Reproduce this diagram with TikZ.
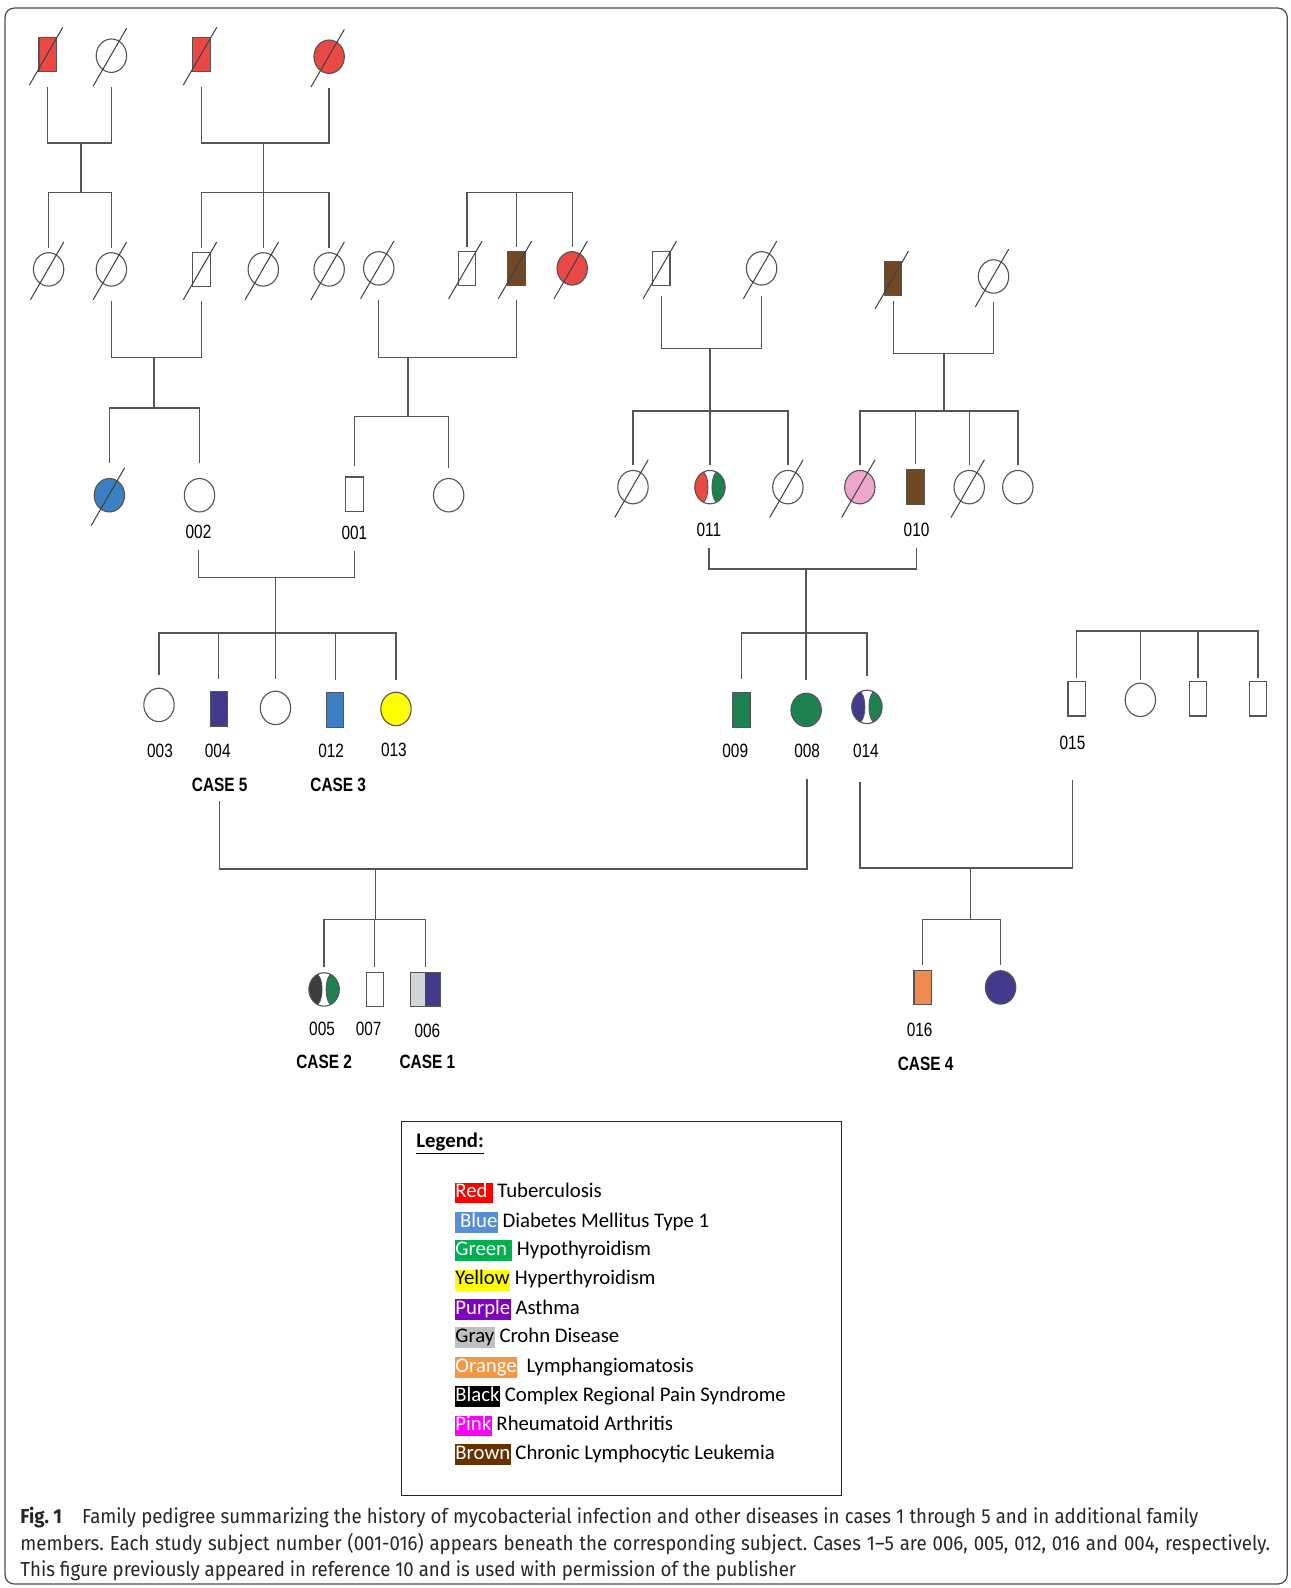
\documentclass[tikz,border=0pt]{standalone}
\usepackage{fontspec}
\usetikzlibrary{shapes.geometric}
\newfontfamily\pedfont[FakeStretch=0.8]{Liberation Sans}
\newfontfamily\legfont{Carlito}
\newfontfamily\capfont[FakeStretch=0.92]{Fira Sans}
\frenchspacing

\definecolor{tbred}{RGB}{233,72,68}
\definecolor{cllbrown}{RGB}{112,72,38}
\definecolor{dmblue}{RGB}{58,128,194}
\definecolor{thgreen}{RGB}{30,130,80}
\definecolor{hyyellow}{RGB}{255,255,0}
\definecolor{asthma}{RGB}{67,58,140}
\definecolor{rapink}{RGB}{238,166,205}
\definecolor{crohngray}{RGB}{210,214,214}
\definecolor{crpsblack}{RGB}{60,60,60}
\definecolor{lymorange}{RGB}{240,138,80}
\definecolor{linegray}{RGB}{85,85,85}
\definecolor{lgred}{RGB}{255,0,0}
\definecolor{lgblue}{RGB}{88,142,214}
\definecolor{lggreen}{RGB}{0,176,80}
\definecolor{lgyellow}{RGB}{255,255,0}
\definecolor{lgpurple}{RGB}{128,0,192}
\definecolor{lggray}{RGB}{191,191,191}
\definecolor{lgorange}{RGB}{247,150,70}
\definecolor{lgpink}{RGB}{255,0,255}
\definecolor{lgbrown}{RGB}{102,51,0}

\newcommand{\swatch}[3]{{\setlength{\fboxsep}{0.5pt}\colorbox{#1}{\textcolor{#2}{\rule[-5pt]{0pt}{19.5pt}#3}}}}

\tikzset{
  person/.style={draw=linegray, line width=1.1pt, inner sep=0pt},
  male/.style={person, rectangle, minimum width=17pt, minimum height=34pt},
  female/.style={person, ellipse, minimum width=30pt, minimum height=33pt},
  twotone/.style 2 args={female, path picture={
      \filldraw[fill=#1, draw=linegray, line width=0.8pt] ([xshift=-8.5pt]path picture bounding box.center) ellipse [x radius=6.5pt, y radius=16pt];
      \filldraw[fill=#2, draw=linegray, line width=0.8pt] ([xshift=8.5pt]path picture bounding box.center) ellipse [x radius=6.5pt, y radius=16pt];}},
  halfbox/.style 2 args={male, minimum width=30pt, path picture={
      \fill[#1] (path picture bounding box.south west) rectangle (path picture bounding box.north);
      \fill[#2] (path picture bounding box.south) rectangle (path picture bounding box.north east);}},
  kin/.style={draw=linegray, line width=1.4pt},
  deathline/.style={draw=black!75, line width=1pt},
  idnum/.style={font=\pedfont\fontsize{19}{19}\selectfont, inner sep=1pt},
  casenum/.style={font=\pedfont\bfseries\fontsize{19}{19}\selectfont, inner sep=1pt},
  legentry/.style={font=\legfont\fontsize{20.5}{24}\selectfont, inner sep=0pt, anchor=west},
  capline/.style={font=\capfont\fontsize{20}{26}\selectfont, text=black!85, inner sep=0pt, anchor=base west}
}

\begin{document}
\begin{tikzpicture}[x=1pt,y=-1pt]
\useasboundingbox (0,0) rectangle (1274,1568);
\fill[white] (0,0) rectangle (1274,1568);
\draw[black!70, line width=1.2pt, rounded corners=9pt] (5,8) rectangle (1271,1564);

% generation I
\node[male, fill=tbred] (g1a) at (47,54) {};
\node[female] (g1b) at (110,55) {};
\node[male, fill=tbred] (g1c) at (199,54) {};
\node[female, fill=tbred] (g1d) at (325,56) {};

% generation II
\node[female] (g2a) at (48,266) {};
\node[female] (g2b) at (110,266) {};
\node[male] (g2c) at (199,266) {};
\node[female] (g2d) at (260,266) {};
\node[female] (g2e) at (325,266) {};
\node[female] (g2f) at (374,265) {};
\node[male] (g2g) at (461,265) {};
\node[male, fill=cllbrown] (g2h) at (510,265) {};
\node[female, fill=tbred] (g2i) at (565,265) {};
\node[male] (g2j) at (653,265) {};
\node[female] (g2k) at (752,265) {};
\node[male, fill=cllbrown] (g2l) at (882,275) {};
\node[female] (g2m) at (981,273) {};

% generation III
\node[female, fill=dmblue] (g3a) at (108,489) {};
\node[female] (g3b) at (197,489) {};
\node[male] (g3c) at (350,488) {};
\node[female] (g3d) at (443,489) {};
\node[female] (g3e) at (625,481) {};
\node[twotone={tbred}{thgreen}] (g3f) at (701,481) {};
\node[female] (g3g) at (778,481) {};
\node[female, fill=rapink] (g3h) at (849,481) {};
\node[male, fill=cllbrown] (g3i) at (904,481) {};
\node[female] (g3j) at (957,481) {};
\node[female] (g3k) at (1005,481) {};

% generation IV
\node[female] (g4a) at (157,696) {};
\node[male, fill=asthma] (g4b) at (216,700) {};
\node[female] (g4c) at (272,699) {};
\node[male, fill=dmblue] (g4d) at (331,701) {};
\node[female, fill=hyyellow] (g4e) at (391,700) {};
\node[male, fill=thgreen] (g4f) at (732,701) {};
\node[female, fill=thgreen] (g4g) at (796,701) {};
\node[twotone={asthma}{thgreen}] (g4h) at (856,698) {};
\node[male] (g4i) at (1063,690) {};
\node[female] (g4j) at (1126,691) {};
\node[male] (g4k) at (1183,690) {};
\node[male] (g4l) at (1242,690) {};

% generation V
\node[twotone={crpsblack}{thgreen}] (g5a) at (320,977) {};
\node[male] (g5b) at (370,977) {};
\node[halfbox={crohngray}{asthma}] (g5c) at (420,977) {};
\node[male, fill=lymorange] (g5d) at (911,975) {};
\node[female, fill=asthma] (g5e) at (988,975) {};

\foreach \p in {g1a,g1b,g1c,g1d,g2a,g2b,g2c,g2d,g2e,g2f,g2g,g2h,g2i,g2j,g2k,g2l,g2m,g3a,g3e,g3g,g3h,g3j}
  \draw[deathline] ([shift={(-18pt,-30pt)}]\p.center) -- ([shift={(15pt,27pt)}]\p.center);

% subject numbers
\node[idnum] (n002) at (196,525) {002};
\node[idnum] (n001) at (350,526) {001};
\node[idnum] (n011) at (700,523) {011};
\node[idnum] (n010) at (905,523) {010};
\node[idnum] (n003) at (158,741) {003};
\node[idnum] (n004) at (215,741) {004};
\node[idnum] (n012) at (327,741) {012};
\node[idnum] (n013) at (389,740) {013};
\node[idnum] (n009) at (726,741) {009};
\node[idnum] (n008) at (797,741) {008};
\node[idnum] (n014) at (855,741) {014};
\node[idnum] (n015) at (1059,734) {015};
\node[casenum] (c5) at (217,775) {CASE 5};
\node[casenum] (c3) at (334,775) {CASE 3};
\node[idnum] (n005) at (318,1016) {005};
\node[idnum] (n007) at (364,1016) {007};
\node[idnum] (n006) at (422,1018) {006};
\node[casenum] (c2) at (320,1048) {CASE 2};
\node[casenum] (c1) at (422,1048) {CASE 1};
\node[idnum] (n016) at (908,1017) {016};
\node[casenum] (c4) at (914,1050) {CASE 4};

% lines
\coordinate (m1) at (80,141);
\coordinate (s1) at (80,190);
\draw[kin] ([yshift=-14pt]g1a.south) |- (m1) -| ([yshift=-14pt]g1b.south);
\draw[kin] (m1) -- (s1);
\draw[kin] ([yshift=4pt]g2a.north) |- (s1) -| ([yshift=4pt]g2b.north);

\coordinate (m2) at (260,141);
\coordinate (s2) at (260,190);
\draw[kin] ([yshift=-14pt]g1c.south) |- (m2) -| ([yshift=-14pt]g1d.south);
\draw[kin] (m2) -- (s2);
\draw[kin] ([yshift=4pt]g2c.north) |- (s2) -| ([yshift=4pt]g2e.north);
\draw[kin] ([yshift=4pt]g2d.north) -- (g2d |- s2);

\coordinate (s3) at (510,190);
\draw[kin] ([yshift=4pt]g2g.north) |- (s3) -| ([yshift=4pt]g2i.north);
\draw[kin] ([yshift=4pt]g2h.north) -- (g2h |- s3);

\coordinate (m4) at (152,353);
\coordinate (s4) at (152,403);
\draw[kin] ([yshift=-14pt]g2b.south) |- (m4) -| ([yshift=-14pt]g2c.south);
\draw[kin] (m4) -- (s4);
\draw[kin] ([yshift=15pt]g3a.north) |- (s4) -| ([yshift=15pt]g3b.north);

\coordinate (m5) at (403,353);
\coordinate (s5) at (403,411);
\draw[kin] ([yshift=-14pt]g2f.south) |- (m5) -| ([yshift=-14pt]g2h.south);
\draw[kin] (m5) -- (s5);
\draw[kin] ([yshift=10pt]g3c.north) |- (s5) -| ([yshift=10pt]g3d.north);

\coordinate (m6) at (701,344);
\coordinate (s6) at (701,406);
\draw[kin] ([yshift=-10pt]g2j.south) |- (m6) -| ([yshift=-10pt]g2k.south);
\draw[kin] (m6) -- (s6);
\draw[kin] ([yshift=5pt]g3e.north) |- (s6) -| ([yshift=5pt]g3g.north);
\draw[kin] ([yshift=5pt]g3f.north) -- (g3f |- s6);

\coordinate (m7) at (932,349);
\coordinate (s7) at (932,406);
\draw[kin] ([yshift=-5pt]g2l.south) |- (m7) -| ([yshift=-8pt]g2m.south);
\draw[kin] (m7) -- (s7);
\draw[kin] ([yshift=5pt]g3h.north) |- (s7) -| ([yshift=5pt]g3k.north);
\draw[kin] ([yshift=5pt]g3i.north) -- (g3i |- s7);
\draw[kin] ([yshift=5pt]g3j.north) -- (g3j |- s7);

\coordinate (m8) at (272,570);
\coordinate (s8) at (272,625);
\draw[kin] ([yshift=-10pt]n002.south) |- (m8) -| ([yshift=-10pt]n001.south);
\draw[kin] (m8) -- (s8);
\draw[kin] ([yshift=12pt]g4a.north) |- (s8) -| ([yshift=12pt]g4e.north);
\foreach \kid in {g4b,g4c,g4d}
  \draw[kin] ([yshift=12pt]\kid.north) -- (\kid |- s8);

\coordinate (m9) at (796,562);
\coordinate (s9) at (796,625);
\draw[kin] ([yshift=-10pt]n011.south) |- (m9) -| ([yshift=-10pt]n010.south);
\draw[kin] (m9) -- (s9);
\draw[kin] ([yshift=13pt]g4f.north) |- (s9) -| ([yshift=13pt]g4h.north);
\draw[kin] ([yshift=13pt]g4g.north) -- (g4g |- s9);

\coordinate (s10) at (1126,623);
\draw[kin] ([yshift=3pt]g4i.north) |- (s10) -| ([yshift=3pt]g4l.north);
\foreach \kid in {g4j,g4k}
  \draw[kin] ([yshift=3pt]\kid.north) -- (\kid |- s10);

\coordinate (m11) at (371,858);
\coordinate (s11) at (371,908);
\draw[kin] ([yshift=-8pt]c5.south) |- (m11) -| ([yshift=-20pt]n008.south);
\draw[kin] (m11) -- (s11);
\draw[kin] ([yshift=5pt]g5a.north) |- (s11) -| ([yshift=5pt]g5c.north);
\draw[kin] ([yshift=5pt]g5b.north) -- (g5b |- s11);

\coordinate (d14) at (849,772);
\coordinate (d15) at (1059,770);
\coordinate (m12) at (958,857);
\coordinate (s12) at (958,908);
\draw[kin] (d14) |- (m12) -| (d15);
\draw[kin] (m12) -- (s12);
\draw[kin] ([yshift=5pt]g5d.north) |- (s12) -| ([yshift=5pt]g5e.north);

% legend
\node[draw=black!85, line width=1.2pt, anchor=north west, minimum width=434pt, minimum height=369pt, inner sep=0pt] (legend) at (396,1107) {};
\node[legentry] (legtitle) at (411,1129) {\underline{\textbf{Legend:}}};
\node[legentry] (lg1) at (449,1178) {\swatch{lgred}{white}{Red\ }\ Tuberculosis};
\node[legentry] (lg2) at (449,1207) {\swatch{lgblue}{white}{\ Blue}\ Diabetes Mellitus Type 1};
\node[legentry] (lg3) at (449,1235) {\swatch{lggreen}{white}{Green\ }\ Hypothyroidism};
\node[legentry] (lg4) at (449,1264) {\swatch{lgyellow}{black}{Yellow}\ Hyperthyroidism};
\node[legentry] (lg5) at (449,1293) {\swatch{lgpurple}{white}{Purple}\ Asthma};
\node[legentry] (lg6) at (449,1321) {\swatch{lggray}{black}{Gray}\ Crohn Disease};
\node[legentry] (lg7) at (449,1350) {\swatch{lgorange}{white}{Orange}\ \ Lymphangiomatosis};
\node[legentry] (lg8) at (449,1379) {\swatch{black}{white}{Black}\ Complex Regional Pain Syndrome};
\node[legentry] (lg9) at (449,1408) {\swatch{lgpink}{white}{Pink}\ Rheumatoid Arthritis};
\node[legentry] (lg10) at (449,1436) {\swatch{lgbrown}{white}{Brown}\ Chronic Lymphocytic Leukemia};

% caption
\node[capline] (figno) at (20,1504) {\textbf{Fig. 1}};
\node[capline] (cap1) at (81,1504) {\makebox[1102pt][s]{Family pedigree summarizing the history of mycobacterial infection and other diseases in cases 1 through 5 and in additional family}};
\node[capline] (cap2) at (20,1531) {\makebox[1234pt][s]{members. Each study subject number (001-016) appears beneath the corresponding subject. Cases 1–5 are 006, 005, 012, 016 and 004, respectively.}};
\node[capline] (cap3) at (20,1557) {This figure previously appeared in reference 10 and is used with permission of the publisher};
\end{tikzpicture}
\end{document}
